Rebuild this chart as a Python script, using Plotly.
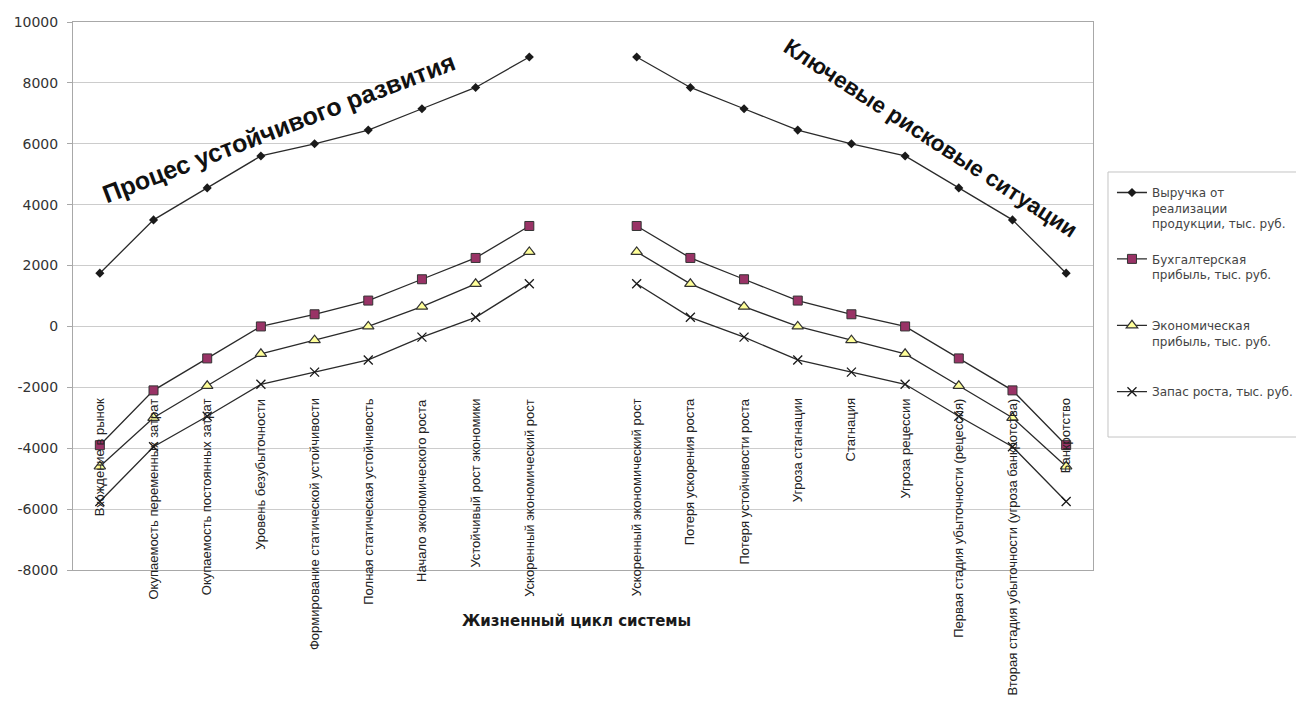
import plotly.graph_objects as go

# Stages of the system life cycle (an empty slot separates the two halves)
stages = [
    "Вхождение в рынок",
    "Окупаемость переменных затрат",
    "Окупаемость постоянных затрат",
    "Уровень безубыточности",
    "Формирование статической устойчивости",
    "Полная статическая устойчивость",
    "Начало экономического роста",
    "Устойчивый рост экономики",
    "Ускоренный экономический рост",
    "",
    "Ускоренный экономический рост",
    "Потеря ускорения роста",
    "Потеря устойчивости роста",
    "Угроза стагнации",
    "Стагнация",
    "Угроза рецессии",
    "Первая стадия убыточности (рецессия)",
    "Вторая стадия убыточности (угроза банкротства)",
    "Банкротство",
]

revenue = [1750, 3500, 4550, 5600, 6000, 6450, 7150, 7850, 8850, None,
           8850, 7850, 7150, 6450, 6000, 5600, 4550, 3500, 1750]
accounting_profit = [-3900, -2100, -1050, 0, 400, 850, 1550, 2250, 3300, None,
                     3300, 2250, 1550, 850, 400, 0, -1050, -2100, -3900]
economic_profit = [-4600, -3000, -1950, -900, -450, 0, 650, 1400, 2450, None,
                   2450, 1400, 650, 0, -450, -900, -1950, -3000, -4600]
growth_reserve = [-5750, -3950, -2950, -1900, -1500, -1100, -350, 300, 1400, None,
                  1400, 300, -350, -1100, -1500, -1900, -2950, -3950, -5750]

series_names = [
    "Выручка от<br>реализации<br>продукции, тыс. руб.<br>\u00a0",
    "Бухгалтерская<br>прибыль, тыс. руб.<br>\u00a0<br>\u00a0",
    "Экономическая<br>прибыль, тыс. руб.<br>\u00a0<br>\u00a0",
    "Запас роста, тыс. руб.<br>\u00a0<br>\u00a0<br>\u00a0",
]

y_ticks = [-8000, -6000, -4000, -2000, 0, 2000, 4000, 6000, 8000, 10000]
y_tick_labels = ["-8000", "-6000", "-4000", "-2000", "0",
                 "2000", "4000", "6000", "8000", "10000"]

x = list(range(len(stages)))
line_color = "#2a2a2a"

fig = go.Figure()
fig.add_trace(go.Scatter(
    x=x, y=revenue, name=series_names[0], mode="lines+markers", legendgroup="a",
    line=dict(color=line_color, width=1.3),
    marker=dict(symbol="diamond", size=7, color="#1a1a1a"),
))
fig.add_trace(go.Scatter(
    x=x, y=accounting_profit, name=series_names[1], mode="lines+markers",
    legendgroup="b",
    line=dict(color=line_color, width=1.3),
    marker=dict(symbol="square", size=9, color="#993366",
                line=dict(color="#333333", width=1)),
))
fig.add_trace(go.Scatter(
    x=x, y=economic_profit, name=series_names[2], mode="lines+markers",
    legendgroup="c",
    line=dict(color=line_color, width=1.3),
    marker=dict(symbol="triangle-up", size=10, color="#ffff99",
                line=dict(color="#333333", width=1.2)),
))
fig.add_trace(go.Scatter(
    x=x, y=growth_reserve, name=series_names[3], mode="lines+markers",
    legendgroup="d",
    line=dict(color=line_color, width=1.3),
    marker=dict(symbol="x-thin", size=9, line=dict(color="#1a1a1a", width=1.3)),
))

# Vertical stage labels hanging below the -2000 level
for i, label in enumerate(stages):
    if not label:
        continue
    fig.add_annotation(
        x=i, y=-2300, xref="x", yref="y", text=label, showarrow=False,
        textangle=-90, xanchor="center", yanchor="top",
        font=dict(family="Liberation Sans, Arial", size=13, color="#222222"),
    )

# Section captions
fig.add_annotation(
    x=0.201, y=0.807, xref="paper", yref="paper", xanchor="center",
    yanchor="middle",
    text="Процес устойчивого развития", showarrow=False, textangle=-21,
    font=dict(family="Liberation Sans, Arial", size=25, color="#111111",
              weight="bold"),
)
fig.add_annotation(
    x=0.841, y=0.787, xref="paper", yref="paper", xanchor="center",
    yanchor="middle",
    text="Ключевые рисковые ситуации", showarrow=False, textangle=33,
    font=dict(family="Liberation Sans, Arial", size=22.5, color="#111111",
              weight="bold"),
)
fig.add_annotation(
    x=0.494, y=-0.113, xref="paper", yref="paper",
    text="Жизненный цикл системы", showarrow=False,
    font=dict(family="DejaVu Sans", size=15, color="#1a1a1a", weight="bold"),
)

# Legend frame
fig.add_shape(
    type="rect", xref="paper", yref="paper",
    x0=1.0147, x1=1.32, y0=0.2427, y1=0.7263,
    line=dict(color="#c4c4c4", width=1), fillcolor="rgba(0,0,0,0)",
)

fig.update_layout(
    width=1296, height=702,
    margin=dict(l=73, r=203, t=22, b=132, autoexpand=False),
    paper_bgcolor="white", plot_bgcolor="white",
    showlegend=True,
    legend=dict(
        x=1.0186, y=0.715, xanchor="left", yanchor="top",
        bgcolor="rgba(0,0,0,0)", borderwidth=0, valign="top",
        font=dict(family="DejaVu Sans", size=12, color="#444444"),
        tracegroupgap=1, itemwidth=30,
    ),
    xaxis=dict(
        range=[-0.5, len(stages) - 0.5], showticklabels=False, showgrid=False,
        zeroline=False, showline=True, mirror=True, linecolor="#a8a8a8",
        linewidth=1, ticks="",
    ),
    yaxis=dict(
        range=[-8000, 10000], tickvals=y_ticks, ticktext=y_tick_labels,
        showgrid=True,
        gridcolor="#cccccc", gridwidth=1, zeroline=False, showline=True,
        mirror=True, linecolor="#a8a8a8", linewidth=1,
        ticks="outside", ticklen=5, tickcolor="#a8a8a8", ticklabelstandoff=6,
        tickfont=dict(family="DejaVu Sans", size=14, color="#333333"),
    ),
)

fig.write_html("out.html")
